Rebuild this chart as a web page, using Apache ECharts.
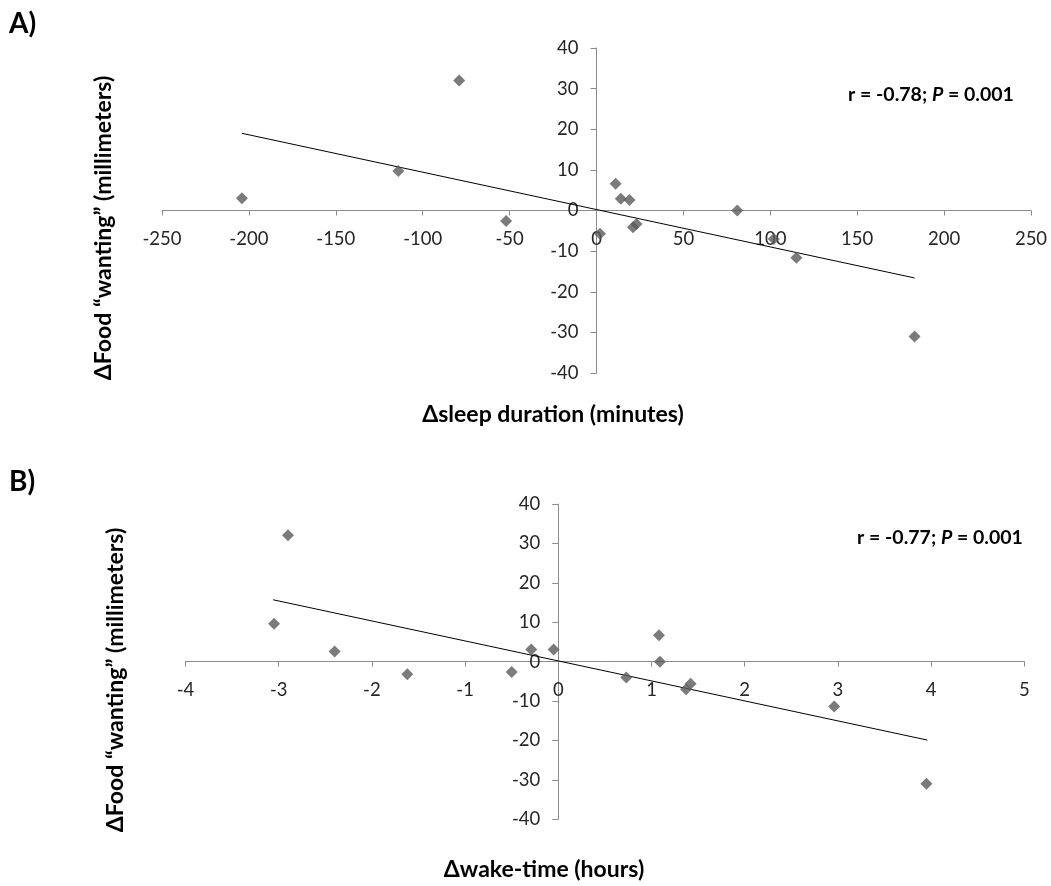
<!DOCTYPE html>
<html>
<head>
<meta charset="utf-8">
<script src="https://cdn.jsdelivr.net/npm/echarts@6/dist/echarts.min.js"></script>
<style>
html,body{margin:0;padding:0;background:#fff;}
#chart{width:1051px;height:886px;}
</style>
</head>
<body>
<div id="chart"></div>
<script>
// Panel A: Δsleep duration (minutes) vs ΔFood "wanting" (mm)
const sleepDuration = [-204, -114, -79, -52, 2, 11, 14, 19, 21, 23, 81, 102, 115, 183];
const wantingA      = [3.0, 9.7, 32.0, -2.6, -5.7, 6.6, 2.9, 2.6, -4.1, -3.3, 0, -7.0, -11.6, -31.0];
const trendAx = [-204, 183];
const trendAy = [19.0, -16.6];
const xTicksA = [-250, -200, -150, -100, -50, 0, 50, 100, 150, 200, 250];

// Panel B: Δwake-time (hours) vs ΔFood "wanting" (mm)
const wakeTime  = [-3.05, -2.90, -2.40, -1.62, -0.50, -0.29, -0.05, 0.73, 1.08, 1.09, 1.37, 1.42, 2.96, 3.95];
const wantingB  = [9.6, 32.1, 2.6, -3.2, -2.6, 3.1, 3.1, -4.05, 6.7, 0, -7.0, -5.6, -11.4, -31.0];
const trendBx = [-3.06, 3.96];
const trendBy = [15.7, -19.9];
const xTicksB = [-4, -3, -2, -1, 0, 1, 2, 3, 4, 5];

const yTicks = [-40, -30, -20, -10, 0, 10, 20, 30, 40];

const FONT = 'Lato';
const axisGray = '#8c8c8c';
const labelColor = '#262626';
const markColor = '#5a5a5a';
const W = 1051, H = 886;

const grids = [
  {left:162, right:20, top:48, bottom:513},
  {left:185.5, right:26.7, top:504, bottom:66.7}
];

function pairs(xs, ys){ return xs.map((x,i)=>[x, ys[i]]); }

// place axis lines where the other axis is zero (Excel-style crossing)
function zeroFrac(ticks){ const a = ticks[0], b = ticks[ticks.length-1]; return (0 - a) / (b - a); }

function xAxisCfg(gi, ticks){
  const g = grids[gi];
  const h = H - g.top - g.bottom;
  const off = -h * zeroFrac(yTicks);
  return {
    type:'value', gridIndex:gi, position:'bottom', offset: off,
    min: ticks[0], max: ticks[ticks.length-1], interval: ticks[1]-ticks[0],
    axisLine:{show:true, onZero:false, lineStyle:{color:axisGray, width:1}},
    axisTick:{show:true, length:5, lineStyle:{color:axisGray}},
    axisLabel:{color:labelColor, fontFamily:FONT, fontSize:18.5, margin:19},
    splitLine:{show:false}
  };
}
function yAxisCfg(gi, xticks){
  const g = grids[gi];
  const w = W - g.left - g.right;
  const off = -w * zeroFrac(xticks);
  return {
    type:'value', gridIndex:gi, position:'left', offset: off,
    min: yTicks[0], max: yTicks[yTicks.length-1], interval: 10,
    axisLine:{show:true, onZero:false, lineStyle:{color:axisGray, width:1}},
    axisTick:{show:true, length:6, lineStyle:{color:axisGray}},
    axisLabel:{color:labelColor, fontFamily:FONT, fontSize:18.5, margin:18},
    splitLine:{show:false}
  };
}

const chart = echarts.init(document.getElementById('chart'), null, {renderer:'canvas'});

const titleStyle = {fontFamily:FONT, fontWeight:'bold', fontSize:23, fill:'#000', align:'center', verticalAlign:'middle'};
const richAnn = {b:{fontFamily:FONT, fontWeight:'bold', fontSize:19.5, fill:'#000'},
                 i:{fontFamily:FONT, fontWeight:'bold', fontStyle:'italic', fontSize:19.5, fill:'#000'}};

const option = {
  backgroundColor:'#ffffff',
  animation:false,
  grid: grids,
  xAxis:[ xAxisCfg(0, xTicksA), xAxisCfg(1, xTicksB) ],
  yAxis:[ yAxisCfg(0, xTicksA), yAxisCfg(1, xTicksB) ],
  series:[
    {type:'line', xAxisIndex:0, yAxisIndex:0, data:pairs(trendAx, trendAy), symbol:'none',
     lineStyle:{color:'#000', width:1}, z:2},
    {type:'scatter', xAxisIndex:0, yAxisIndex:0, data:pairs(sleepDuration, wantingA),
     symbol:'diamond', symbolSize:12, itemStyle:{color:markColor}, z:3},
    {type:'line', xAxisIndex:1, yAxisIndex:1, data:pairs(trendBx, trendBy), symbol:'none',
     lineStyle:{color:'#000', width:1}, z:2},
    {type:'scatter', xAxisIndex:1, yAxisIndex:1, data:pairs(wakeTime, wantingB),
     symbol:'diamond', symbolSize:12, itemStyle:{color:markColor}, z:3}
  ],
  graphic:[
    {type:'text', x:9, y:24, style:{text:'A)', fontFamily:FONT, fontWeight:'bold', fontSize:28, fill:'#000', verticalAlign:'middle'}},
    {type:'text', x:9, y:482, style:{text:'B)', fontFamily:FONT, fontWeight:'bold', fontSize:28, fill:'#000', verticalAlign:'middle'}},
    {type:'text', x:104, y:228, rotation:Math.PI/2,
     style:Object.assign({text:'ΔFood \u201cwanting\u201d (millimeters)'}, titleStyle)},
    {type:'text', x:116, y:680, rotation:Math.PI/2,
     style:Object.assign({text:'ΔFood \u201cwanting\u201d (millimeters)'}, titleStyle)},
    {type:'text', x:553, y:415,
     style:Object.assign({text:'Δsleep duration (minutes)'}, titleStyle)},
    {type:'text', x:544, y:870,
     style:Object.assign({text:'Δwake-time (hours)'}, titleStyle)},
    {type:'text', x:848, y:95,
     style:{text:'{b|r = -0.78; }{i|P}{b| = 0.001}', fill:'#000', verticalAlign:'middle', rich:richAnn}},
    {type:'text', x:857, y:538,
     style:{text:'{b|r = -0.77; }{i|P}{b| = 0.001}', fill:'#000', verticalAlign:'middle', rich:richAnn}}
  ]
};
chart.setOption(option);
</script>
</body>
</html>
